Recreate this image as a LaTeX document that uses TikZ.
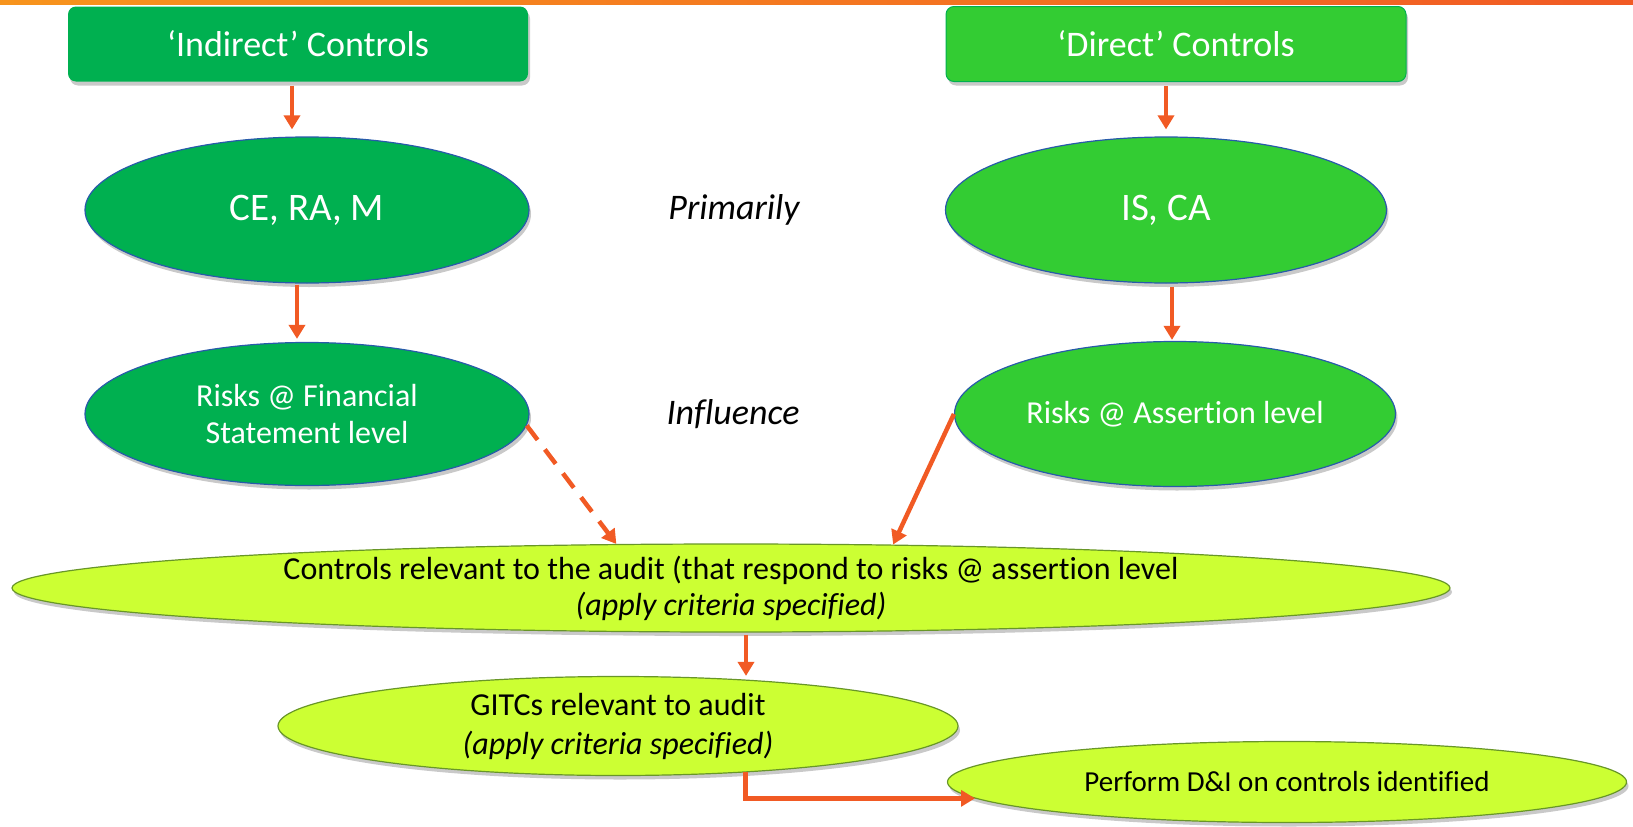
\documentclass[tikz,border=0pt]{standalone}
\usepackage{fontspec}
\setmainfont{Carlito}[Ligatures={TeX,NoCommon}]
\usetikzlibrary{shapes.geometric,shadows,arrows.meta}

\definecolor{indgreen}{RGB}{0,176,80}
\definecolor{dirgreen}{RGB}{51,204,51}
\definecolor{limefill}{RGB}{204,255,51}
\definecolor{limeedge}{RGB}{104,150,40}
\definecolor{ellblue}{RGB}{40,90,170}
\definecolor{arrorange}{RGB}{241,90,36}
\definecolor{topleft}{RGB}{247,148,29}
\definecolor{topright}{RGB}{241,90,36}

\begin{document}
\begin{tikzpicture}[x=1pt,y=-1pt,
  softshadow/.style={drop shadow={shadow xshift=2pt,shadow yshift=-4pt,opacity=0.3,fill=black!70}},
  ctrlbox/.style={rectangle,rounded corners=8pt,minimum width=460pt,minimum height=75pt,
    text=white,font=\fontsize{36}{42}\selectfont,softshadow},
  greenell/.style={ellipse,draw=ellblue,line width=1.2pt,text=white,inner sep=0pt,
    align=center,softshadow},
  limeell/.style={ellipse,fill=limefill,draw=limeedge,line width=1.2pt,inner xsep=0pt,
    inner ysep=-8pt,align=center,softshadow},
  remark/.style={font=\fontsize{36}{42}\selectfont\itshape},
  arr/.style={draw=arrorange,line width=4.5pt,-{Triangle[width=16pt,length=14pt]}}]
\useasboundingbox (0,0) rectangle (1633,827);
\shade[left color=topleft,right color=topright] (0,0) rectangle (1633,4);

\node[ctrlbox,fill=indgreen] (ind) at (298,44) {‘Indirect’ Controls};
\node[ctrlbox,fill=dirgreen,draw=indgreen,line width=1pt] (dir) at (1176,44) {‘Direct’ Controls};

\node[greenell,fill=indgreen,minimum width=444pt,minimum height=146pt,
  font=\fontsize{39}{45}\selectfont] (cer) at (307,210) {CE, RA, M};
\node[greenell,fill=dirgreen,minimum width=441pt,minimum height=146pt,
  font=\fontsize{39}{45}\selectfont] (isca) at (1166,210) {IS, CA};
\node[remark] (prim) at (734,210) {Primarily};

\node[greenell,fill=indgreen,minimum width=444pt,minimum height=143pt,
  font=\fontsize{32}{37}\selectfont] (rfs) at (307,414) {Risks @ Financial\\Statement level};
\node[greenell,fill=dirgreen,minimum width=441pt,minimum height=145pt,
  font=\fontsize{32}{37}\selectfont] (ras) at (1175,414) {Risks @ Assertion level};
\node[remark] (infl) at (733,414) {Influence};

\node[limeell,minimum width=1438pt,minimum height=88pt,font=\fontsize{32}{36}\selectfont]
  (crel) at (731,588) {Controls relevant to the audit (that respond to risks @ assertion level\\\textit{(apply criteria specified)}};
\node[limeell,minimum width=680pt,minimum height=99pt,font=\fontsize{32}{39}\selectfont]
  (gitc) at (618,726) {GITCs relevant to audit\\\textit{(apply criteria specified)}};
\node[limeell,minimum width=679pt,minimum height=81pt,font=\fontsize{29}{34}\selectfont]
  (dni) at (1287,782) {Perform D\&I on controls identified};

\draw[arr,shorten <=4pt,shorten >=7pt] ([xshift=-6pt]ind.south) -- ([xshift=-6pt]ind.south |- cer.north);
\draw[arr,shorten <=4pt,shorten >=7pt] ([xshift=-10pt]dir.south) -- ([xshift=-10pt]dir.south |- isca.north);
\draw[arr,shorten <=1pt,shorten >=3pt] ([xshift=-10pt]cer.south) -- ([xshift=-10pt]rfs.north);
\draw[arr,shorten <=3pt,shorten >=1pt] ([xshift=6pt]isca.south) -- ([xshift=6pt]isca.south |- ras.north);
\draw[arr,dash pattern=on 18pt off 12pt] (rfs.-3) -- (crel.159);
\draw[arr] (ras.west) -- (crel.15);
\draw[arr,shorten <=2pt] ([xshift=15pt]crel.south) -- ([xshift=15pt]crel.south |- gitc.north);
\draw[arr] (gitc.-20) |- (dni.183);
\end{tikzpicture}
\end{document}
